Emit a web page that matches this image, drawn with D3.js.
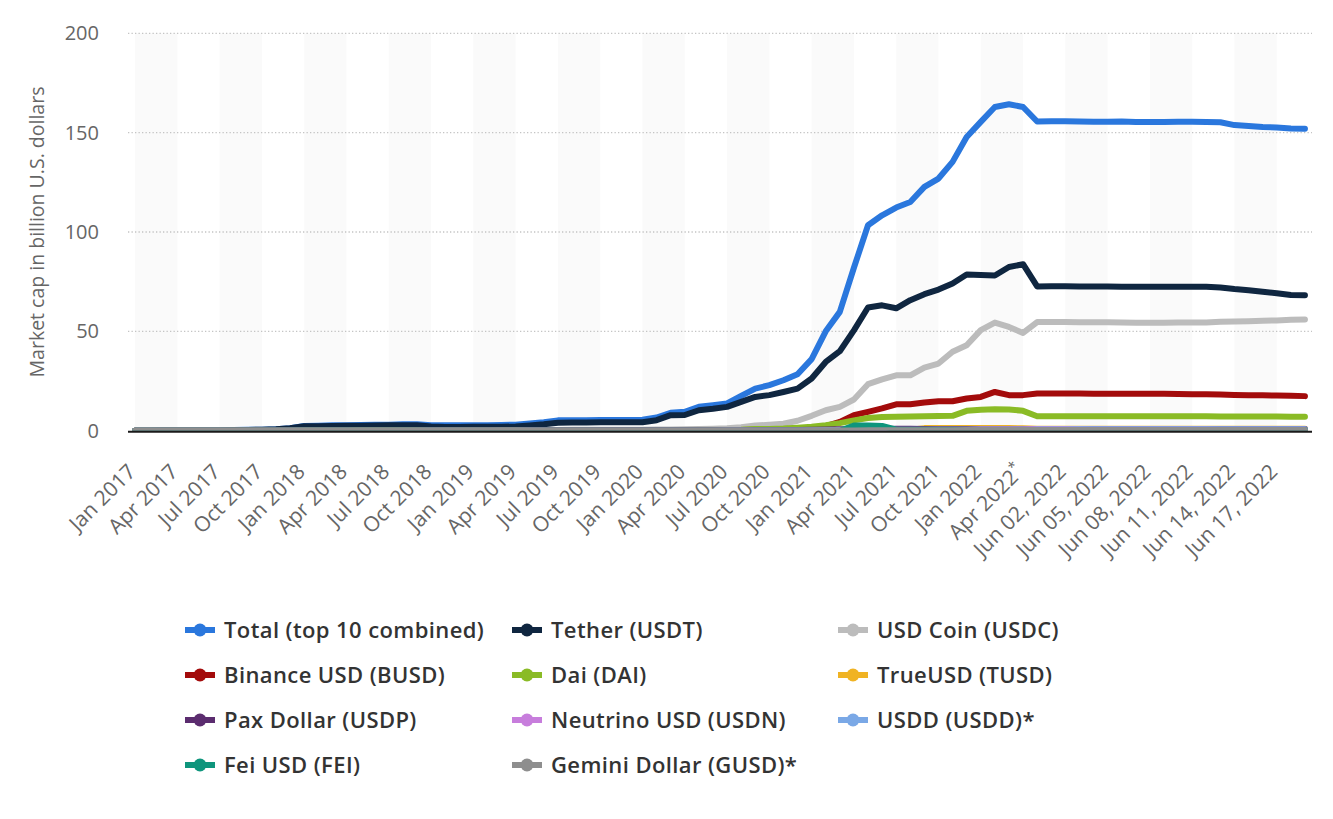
<!DOCTYPE html>
<html>
<head>
<meta charset="utf-8">
<script src="https://cdnjs.cloudflare.com/ajax/libs/d3/7.8.5/d3.min.js"></script>
<style>
body { margin:0; background:#fff; }
text { font-family: "Open Sans", sans-serif; }
</style>
</head>
<body>
<svg id="chart" width="1333" height="819"></svg>
<script>
// categories: monthly Jan 2017 - May 2022, then daily in June 2022
var categories = [
    "Jan 2017","Feb 2017","Mar 2017","Apr 2017","May 2017","Jun 2017","Jul 2017","Aug 2017","Sep 2017","Oct 2017","Nov 2017","Dec 2017",
    "Jan 2018","Feb 2018","Mar 2018","Apr 2018","May 2018","Jun 2018","Jul 2018","Aug 2018","Sep 2018","Oct 2018","Nov 2018","Dec 2018",
    "Jan 2019","Feb 2019","Mar 2019","Apr 2019","May 2019","Jun 2019","Jul 2019","Aug 2019","Sep 2019","Oct 2019","Nov 2019","Dec 2019",
    "Jan 2020","Feb 2020","Mar 2020","Apr 2020","May 2020","Jun 2020","Jul 2020","Aug 2020","Sep 2020","Oct 2020","Nov 2020","Dec 2020",
    "Jan 2021","Feb 2021","Mar 2021","Apr 2021","May 2021","Jun 2021","Jul 2021","Aug 2021","Sep 2021","Oct 2021","Nov 2021","Dec 2021",
    "Jan 2022","Feb 2022","Mar 2022","Apr 2022*","May 2022*",
    "Jun 01, 2022","Jun 02, 2022","Jun 03, 2022","Jun 04, 2022","Jun 05, 2022","Jun 06, 2022","Jun 07, 2022","Jun 08, 2022",
    "Jun 09, 2022","Jun 10, 2022","Jun 11, 2022","Jun 12, 2022","Jun 13, 2022","Jun 14, 2022","Jun 15, 2022","Jun 16, 2022",
    "Jun 17, 2022","Jun 18, 2022","Jun 19, 2022"
];

var yTicks = [0, 50, 100, 150, 200];

// values in billion U.S. dollars
var total = [
    0.02,0.02,0.06,0.07,0.1,0.12,0.12,0.35,0.45,0.5,0.75,1.3,
    2.4,2.5,2.7,2.8,2.9,3.0,3.0,3.2,3.3,2.8,2.7,2.7,
    2.8,2.8,2.9,3.0,3.6,4.3,5.2,5.3,5.3,5.4,5.4,5.4,
    5.5,6.6,9.0,9.5,12.0,12.8,13.7,17.5,21.2,22.9,25.4,28.4,
    36.0,50.0,59.8,82.0,103.4,108.4,112.3,115.1,122.7,126.9,135.3,147.8,
    155.4,162.9,164.3,162.9,155.6,
    155.7,155.7,155.6,155.5,155.5,155.6,155.4,155.3,155.3,155.5,155.5,155.4,155.2,153.8,153.4,152.8,152.6,152.1,152.0
];
var tether = [
    0.01,0.01,0.05,0.06,0.1,0.1,0.1,0.3,0.4,0.45,0.7,1.2,
    2.2,2.3,2.4,2.5,2.5,2.6,2.7,2.8,2.8,2.1,1.9,1.9,
    2.0,2.0,2.0,2.1,2.6,3.2,4.0,4.1,4.1,4.2,4.2,4.2,
    4.3,5.3,7.8,7.9,10.3,11.0,12.0,14.5,17.0,17.9,19.5,21.2,
    26.3,34.6,40.0,50.5,62.0,63.1,61.6,65.7,68.7,71.0,74.1,78.6,
    78.4,78.1,82.4,83.8,72.6,
    72.7,72.7,72.6,72.6,72.6,72.5,72.5,72.5,72.4,72.4,72.4,72.4,72.1,71.3,70.7,69.9,69.2,68.3,68.2
];
var usdCoin = [
    0,0,0,0,0,0,0,0,0,0,0,0,
    0,0,0,0,0,0,0,0,0,0.1,0.2,0.25,
    0.3,0.25,0.25,0.26,0.3,0.35,0.4,0.45,0.45,0.5,0.45,0.5,
    0.5,0.6,0.6,0.7,0.8,1.0,1.2,1.8,2.6,3.0,3.5,5.0,
    7.5,10.3,12.0,15.7,23.4,25.8,27.9,27.9,31.8,33.8,39.7,43.0,
    50.6,54.4,52.2,49.2,54.7,
    54.7,54.7,54.6,54.6,54.6,54.4,54.3,54.3,54.3,54.4,54.4,54.5,54.8,55.0,55.1,55.3,55.5,55.8,56.0
];
var binanceUsd = [
    0,0,0,0,0,0,0,0,0,0,0,0,
    0,0,0,0,0,0,0,0,0,0,0,0,
    0,0,0,0,0,0,0,0,0.02,0.05,0.1,0.15,
    0.2,0.2,0.15,0.15,0.15,0.15,0.2,0.3,0.5,0.6,0.8,1.0,
    1.1,2.3,4.4,7.8,9.5,11.2,13.3,13.3,14.2,14.8,14.8,16.2,
    17.0,19.5,17.9,17.9,18.7,
    18.7,18.7,18.7,18.6,18.6,18.6,18.6,18.6,18.6,18.5,18.4,18.3,18.2,18.0,17.9,17.8,17.7,17.6,17.4
];
var dai = [
    0,0,0,0,0,0,0,0,0,0,0,0.02,
    0.05,0.06,0.06,0.07,0.06,0.06,0.06,0.06,0.07,0.07,0.07,0.08,
    0.08,0.08,0.09,0.09,0.09,0.08,0.08,0.08,0.08,0.08,0.08,0.1,
    0.12,0.12,0.1,0.12,0.15,0.15,0.3,0.5,0.9,0.9,1.1,1.5,
    2.0,2.8,3.8,5.2,6.4,6.9,7.0,7.2,7.3,7.4,7.5,10.0,
    10.6,10.8,10.7,10.0,7.3,
    7.3,7.3,7.3,7.3,7.3,7.3,7.3,7.3,7.3,7.3,7.3,7.3,7.2,7.2,7.1,7.1,7.1,7.0,7.0
];
var trueUsd = [
    0,0,0,0,0,0,0,0,0,0,0,0,
    0,0,0.01,0.02,0.04,0.05,0.07,0.09,0.13,0.16,0.17,0.2,
    0.2,0.2,0.2,0.2,0.18,0.18,0.18,0.18,0.17,0.15,0.14,0.13,
    0.13,0.13,0.13,0.14,0.15,0.17,0.19,0.26,0.3,0.33,0.3,0.28,
    0.32,0.35,0.4,0.45,0.5,0.5,0.5,0.52,1.3,1.3,1.3,1.3,
    1.3,1.3,1.3,1.2,1.0,
    1.0,1.0,1.0,1.0,1.0,1.0,1.0,1.0,1.0,1.0,1.0,1.0,0.98,0.97,0.96,0.96,0.95,0.95,0.95
];
var paxDollar = [
    0,0,0,0,0,0,0,0,0,0,0,0,
    0,0,0,0,0,0,0,0,0.01,0.1,0.13,0.13,
    0.13,0.12,0.14,0.16,0.18,0.19,0.2,0.22,0.22,0.23,0.24,0.25,
    0.24,0.23,0.23,0.24,0.25,0.25,0.26,0.28,0.3,0.3,0.3,0.4,
    0.5,0.6,0.7,0.7,0.8,0.9,1.0,1.0,0.9,0.9,0.9,0.9,
    0.9,0.9,0.9,0.9,0.9,
    0.9,0.9,0.9,0.9,0.9,0.9,0.9,0.9,0.9,0.9,0.9,0.9,0.9,0.9,0.9,0.9,0.9,0.9,0.9
];
var neutrinoUsd = [
    0,0,0,0,0,0,0,0,0,0,0,0,
    0,0,0,0,0,0,0,0,0,0,0,0,
    0,0,0,0,0,0,0,0,0,0,0,0,
    0,0,0,0,0,0.02,0.05,0.1,0.1,0.1,0.12,0.15,
    0.2,0.3,0.4,0.5,0.5,0.5,0.5,0.5,0.5,0.6,0.6,0.6,
    0.8,0.9,0.9,0.9,0.8,
    0.8,0.8,0.8,0.75,0.75,0.7,0.7,0.7,0.7,0.7,0.7,0.68,0.66,0.64,0.62,0.6,0.6,0.6,0.6
];
var usdd = [
    0,0,0,0,0,0,0,0,0,0,0,0,
    0,0,0,0,0,0,0,0,0,0,0,0,
    0,0,0,0,0,0,0,0,0,0,0,0,
    0,0,0,0,0,0,0,0,0,0,0,0,
    0,0,0,0,0,0,0,0,0,0,0,0,
    0,0,0,0,0.6,
    0.6,0.65,0.68,0.7,0.7,0.7,0.7,0.7,0.7,0.7,0.7,0.7,0.7,0.71,0.72,0.72,0.72,0.72,0.72
];
var feiUsd = [
    0,0,0,0,0,0,0,0,0,0,0,0,
    0,0,0,0,0,0,0,0,0,0,0,0,
    0,0,0,0,0,0,0,0,0,0,0,0,
    0,0,0,0,0,0,0,0,0,0,0,0,
    0,0,0,2.6,2.6,2.4,0.5,0.5,0.5,0.5,0.5,0.5,
    0.5,0.5,0.5,0.5,0.4,
    0.35,0.35,0.35,0.35,0.35,0.35,0.35,0.35,0.35,0.35,0.35,0.35,0.35,0.35,0.35,0.35,0.35,0.35,0.35
];
var geminiDollar = [
    0,0,0,0,0,0,0,0,0,0,0,0,
    0,0,0,0,0,0,0,0,0,0.01,0.02,0.03,
    0.03,0.03,0.04,0.04,0.05,0.05,0.05,0.05,0.06,0.06,0.06,0.07,
    0.07,0.07,0.08,0.08,0.08,0.08,0.09,0.09,0.1,0.1,0.1,0.1,
    0.1,0.1,0.12,0.15,0.2,0.2,0.2,0.2,0.2,0.2,0.25,0.3,
    0.3,0.3,0.3,0.3,0.3,
    0.3,0.3,0.3,0.3,0.3,0.3,0.3,0.3,0.3,0.3,0.3,0.3,0.3,0.3,0.3,0.3,0.3,0.3,0.3
];

var seriesNames = ["Total (top 10 combined)","Tether (USDT)","USD Coin (USDC)","Binance USD (BUSD)","Dai (DAI)",
    "TrueUSD (TUSD)","Pax Dollar (USDP)","Neutrino USD (USDN)","USDD (USDD)*","Fei USD (FEI)","Gemini Dollar (GUSD)*"];
var seriesColors = ["#2a77dd","#0f2640","#bcbcbc","#a30b0b","#8abb25","#f0b323","#5b2c6f","#c77ddc","#7aa8e6","#0e957c","#8e8e8e"];
var seriesValues = [total, tether, usdCoin, binanceUsd, dai, trueUsd, paxDollar, neutrinoUsd, usdd, feiUsd, geminiDollar];

var plotLeft = 128, plotRight = 1312, plotTop = 33.3, plotBottom = 430.7;

var svg = d3.select('svg#chart');
svg.append('rect').attr('width',1333).attr('height',819).attr('fill','#fff');

var x = d3.scaleLinear().domain([-0.5, categories.length - 0.5]).range([plotLeft, plotRight]);
var y = d3.scaleLinear().domain([0, 200]).range([plotBottom, plotTop]);

// alternating bands, one every two tick intervals
var bandStarts = d3.range(0, categories.length - 3, 6);
svg.append('g').selectAll('rect')
    .data(bandStarts)
    .enter()
    .append('rect')
    .attr('x',function(d){return x(d)})
    .attr('y',plotTop)
    .attr('width',function(d){return x(d + 3) - x(d)})
    .attr('height',plotBottom - plotTop + 1)
    .attr('fill','#fafafa');

// dotted grid lines
svg.append('g').selectAll('line')
    .data(yTicks.filter(function(d){return d > 0}))
    .enter()
    .append('line')
    .attr('x1',plotLeft)
    .attr('x2',plotRight)
    .attr('y1',function(d){return y(d)})
    .attr('y2',function(d){return y(d)})
    .attr('stroke','#c4c4c4')
    .attr('stroke-width',1.3)
    .attr('stroke-dasharray','1.3,2.2');

// y axis labels
svg.append('g').selectAll('text')
    .data(yTicks)
    .enter()
    .append('text')
    .attr('x',99)
    .attr('y',function(d){return y(d)})
    .attr('dy','0.35em')
    .attr('text-anchor','end')
    .attr('font-size','20px')
    .attr('fill','#666')
    .text(function(d){return d});

svg.append('text')
    .attr('transform','translate(44,232) rotate(-90)')
    .attr('text-anchor','middle')
    .attr('font-size','19.5px')
    .attr('fill','#666')
    .text('Market cap in billion U.S. dollars');

// x axis labels, every third category
var tickIdx = d3.range(0, categories.length, 3);
var xLabels = svg.append('g').selectAll('text')
    .data(tickIdx)
    .enter()
    .append('text')
    .attr('transform',function(d){return 'translate(' + (x(d) + 2) + ',473) rotate(-45)'})
    .attr('text-anchor','end')
    .attr('font-size','21px')
    .attr('fill','#666');
xLabels.each(function(d){
    var label = categories[d];
    var t = d3.select(this);
    if (label.slice(-1) == '*') {
        t.append('tspan').text(label.slice(0, -1));
        t.append('tspan').attr('font-size','14px').attr('dy','-0.6em').text('*');
    } else {
        t.text(label);
    }
});

// lines
svg.append('clipPath').attr('id','plotClip')
    .append('rect')
    .attr('x',plotLeft)
    .attr('y',plotTop - 5)
    .attr('width',plotRight - plotLeft)
    .attr('height',plotBottom - plotTop + 5);

var line = d3.line()
    .x(function(d, i){return x(i)})
    .y(function(d){return y(d)});

svg.append('g').attr('clip-path','url(#plotClip)')
    .selectAll('path')
    .data(seriesValues)
    .enter()
    .append('path')
    .attr('d',function(d){return line(d)})
    .attr('fill','none')
    .attr('stroke',function(d, i){return seriesColors[i]})
    .attr('stroke-width',6)
    .attr('stroke-linejoin','round')
    .attr('stroke-linecap','round');

// x axis line
svg.append('line')
    .attr('x1',plotLeft)
    .attr('x2',plotRight)
    .attr('y1',plotBottom + 1)
    .attr('y2',plotBottom + 1)
    .attr('stroke','#1a1a1a')
    .attr('stroke-width',2);

// legend, three columns
var legendCols = [185, 512, 838];
var legendRows = [630, 675, 720, 765];
var legend = svg.append('g').selectAll('g')
    .data(seriesNames)
    .enter()
    .append('g')
    .attr('transform',function(d, i){
        return 'translate(' + legendCols[i % 3] + ',' + legendRows[Math.floor(i / 3)] + ')';
    });
legend.append('line')
    .attr('x1',0)
    .attr('x2',30)
    .attr('stroke',function(d, i){return seriesColors[i]})
    .attr('stroke-width',6);
legend.append('circle')
    .attr('cx',15)
    .attr('r',6.5)
    .attr('fill',function(d, i){return seriesColors[i]});
legend.append('text')
    .attr('x',39)
    .attr('dy','0.35em')
    .attr('font-size','22px')
    .attr('font-weight',600)
    .attr('letter-spacing','0.4px')
    .attr('fill','#333')
    .text(function(d){return d});
</script>
</body>
</html>
